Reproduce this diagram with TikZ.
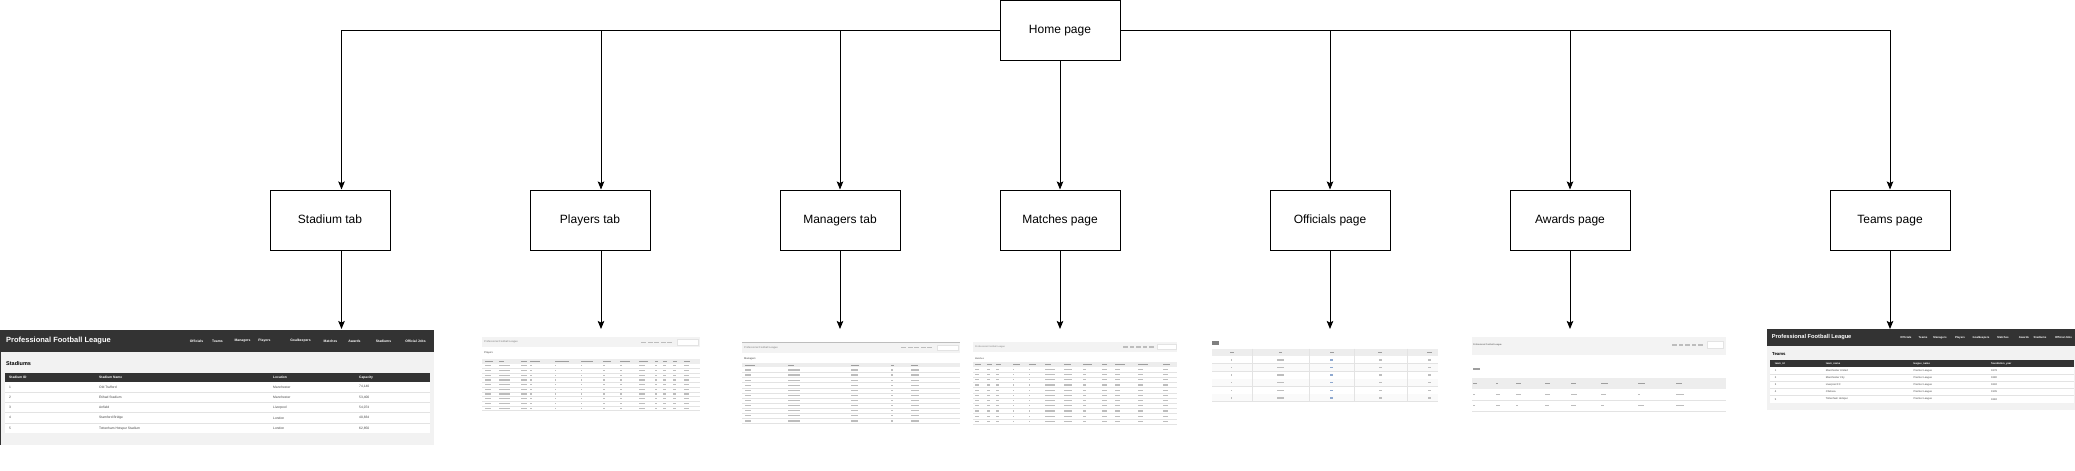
\documentclass[tikz,border=0pt]{standalone}
\usepackage{fontspec}
\setmainfont{Liberation Sans}
\usetikzlibrary{arrows.meta}
\definecolor{hdrdark}{HTML}{333333}
\definecolor{pagebg}{HTML}{F2F2F2}
\definecolor{lightbar}{HTML}{F3F3F3}
\definecolor{thead}{HTML}{EDEDED}
\definecolor{sep}{HTML}{E3E3E3}
\definecolor{cell}{HTML}{BDBDBD}
\definecolor{cellh}{HTML}{9E9E9E}
\definecolor{linkc}{HTML}{8FA9D0}
\definecolor{txt}{HTML}{444444}
\begin{document}
\begin{tikzpicture}[x=1pt,y=-1pt,
 box/.style={draw=black,line width=1pt,minimum width=120pt,minimum height=60pt,inner sep=0pt,text height=8.6pt,text depth=2.4pt,font=\fontsize{12}{14}\selectfont},
 link/.style={draw=black,line width=0.9pt,-{Stealth[length=8pt,width=6.5pt,inset=1.5pt]}},
 wt/.style={inner sep=0pt,text=white,anchor=west},
 nav/.style={inner sep=0pt,text=white,font=\bfseries\fontsize{3.4}{4}\selectfont},
 cellt/.style={inner sep=0pt,anchor=west,text=txt,font=\fontsize{3.3}{4}\selectfont},
 tiny/.style={inner sep=0pt,anchor=west,text=gray,font=\fontsize{2.6}{3}\selectfont},
]
\fill[white] (0,0) rectangle (2075,471);
\useasboundingbox (0,0) rectangle (2075,471);

% ---------- tree boxes ----------
\node[box] (home) at (1060,30.5) {Home page};
\node[box] (stadium) at (330,220) {Stadium tab};
\node[box] (players) at (590,220) {Players tab};
\node[box] (managers) at (840,220) {Managers tab};
\node[box] (matches) at (1060,220) {Matches page};
\node[box] (officials) at (1330,220) {Officials page};
\node[box] (awards) at (1570,220) {Awards page};
\node[box] (teams) at (1890,220) {Teams page};

\coordinate (shotSt) at (341.5,329);
\coordinate (shotPl) at (601,329);
\coordinate (shotMa) at (840,329);
\coordinate (shotMt) at (1060,329);
\coordinate (shotOf) at (1330,329);
\coordinate (shotAw) at (1570,329);
\coordinate (shotTe) at (1890,329);

\draw[link] (home.west) -| ([xshift=11.5pt]stadium.north);
\draw[link] (home.west) -| ([xshift=11pt]players.north);
\draw[link] (home.west) -| (managers.north);
\draw[link] (home.south) -- (matches.north);
\draw[link] (home.east) -| (officials.north);
\draw[link] (home.east) -| (awards.north);
\draw[link] (home.east) -| (teams.north);

\draw[link] ([xshift=11.5pt]stadium.south) -- (shotSt);
\draw[link] ([xshift=11pt]players.south) -- (shotPl);
\draw[link] (managers.south) -- (shotMa);
\draw[link] (matches.south) -- (shotMt);
\draw[link] (officials.south) -- (shotOf);
\draw[link] (awards.south) -- (shotAw);
\draw[link] (teams.south) -- (shotTe);

% ---------- Stadium screenshot ----------
\fill[pagebg] (0,352) rectangle (434,445);
\fill[hdrdark] (0,330) rectangle (434,352.3);
\draw[hdrdark,line width=0.8pt] (0.4,352) -- (0.4,445);
\node[wt,font=\bfseries\fontsize{7.5}{9}\selectfont] (stTitle) at (6,341) {Professional Football League};
\foreach \t/\x [count=\i] in {Officials/196.5,Teams/217.5,Managers/242.5,Players/264.5,Goalkeepers/300.5,Matches/330.5,Awards/354.5,Stadiums/383.5,Official Jobs/415.5}
  \node[nav] (stNav\i) at (\x,341) {\t};
\node[inner sep=0pt,anchor=west,font=\bfseries\fontsize{5.5}{6}\selectfont] (stHead) at (6,363.7) {Stadiums};
\fill[hdrdark] (5,372.7) rectangle (430,381.8);
\fill[white] (5,381.8) rectangle (430,433.3);
\foreach \i in {1,...,4} \draw[sep,line width=0.5pt] (5,{381.8+10.3*\i}) -- (430,{381.8+10.3*\i});
\foreach \t/\x [count=\i] in {Stadium ID/9,Stadium Name/99,Location/273,Capacity/359}
  \node[cellt,text=white,font=\bfseries\fontsize{3.3}{4}\selectfont] (stCol\i) at (\x,377.2) {\t};
\foreach \a/\b/\c/\d [count=\i] in {1/Old Trafford/Manchester/{74,140},2/Etihad Stadium/Manchester/{53,400},3/Anfield/Liverpool/{54,074},4/Stamford Bridge/London/{40,834},5/Tottenham Hotspur Stadium/London/{62,850}}{
  \node[cellt] (stA\i) at (9,{381.8+10.3*(\i-0.5)}) {\a};
  \node[cellt] (stB\i) at (99,{381.8+10.3*(\i-0.5)}) {\b};
  \node[cellt] (stC\i) at (273,{381.8+10.3*(\i-0.5)}) {\c};
  \node[cellt] (stD\i) at (359,{381.8+10.3*(\i-0.5)}) {\d};
}

% ---------- Players screenshot ----------
\fill[lightbar] (482,337.3) rectangle (700,347.3);
\node[tiny] (plTitle) at (484,342.3) {Professional Football League};
\foreach \x in {641,647.5,654,660.5,667} \fill[cell] (\x,341.7) rectangle ++(5,1.3);
\draw[sep,fill=white,line width=0.3pt] (677,339.5) rectangle (698,345);
\node[tiny,text=txt] (plHead) at (484,353.3) {Players};
\fill[thead] (482,359) rectangle (700,363.5);
\foreach \x/\w in {485/8,499.3/5,521/6,530/10,555/14,581/12,602.7/8,620/10,639.3/9,655/3,663.3/4,673.3/4,684.3/6}
  \fill[cellh] (\x,360.6) rectangle ++(\w,1.3);
\foreach \r in {0,...,9}{
  \draw[sep,line width=0.3pt] (482,{363.5+4.7*(\r+1)}) -- (700,{363.5+4.7*(\r+1)});
  \foreach \x/\w in {485/6,499.3/11,521/6,530/2,555/1.2,581/1.2,602.7/2,620/1.5,639.3/6,655/1.5,663.3/3,673.3/3,684.3/5}
    \fill[cell] (\x,{365.2+4.7*\r}) rectangle ++(\w,1.2);
}

% ---------- Managers screenshot ----------
\fill[lightbar] (742,342.5) rectangle (960,352.7);
\draw[cell,line width=0.8pt] (742,342.3) -- (960,342.3);
\node[tiny] (maTitle) at (744,347.6) {Professional Football League};
\foreach \x in {901,907.5,914,920.5,927} \fill[cell] (\x,347) rectangle ++(5,1.3);
\draw[sep,fill=white,line width=0.3pt] (936.7,345) rectangle (958,350.3);
\node[tiny,text=txt] (maHead) at (744,359) {Managers};
\fill[thead] (742,363.3) rectangle (960,367.3);
\foreach \x/\w in {745/10,787.7/6,850.7/8,891/3,911/7}
  \fill[cellh] (\x,364.7) rectangle ++(\w,1.3);
\foreach \r in {0,...,10}{
  \draw[sep,line width=0.3pt] (742,{367.3+5.1*(\r+1)}) -- (960,{367.3+5.1*(\r+1)});
  \foreach \x/\w in {745/6,787.7/12,850.7/7,891/2,911/8}
    \fill[cell] (\x,{369.3+5.1*\r}) rectangle ++(\w,1.2);
}

% ---------- Matches screenshot ----------
\fill[lightbar] (973.3,342.3) rectangle (1176.7,351.7);
\node[tiny,font=\fontsize{2.3}{3}\selectfont] (mtTitle) at (975,347) {Professional Football League};
\foreach \x in {1123,1129.5,1136,1142.5,1149} \fill[cell] (\x,346.4) rectangle ++(4.5,1.2);
\draw[sep,fill=white,line width=0.3pt] (1156.7,344.5) rectangle (1175.7,349.5);
\node[tiny,text=txt,font=\fontsize{2.3}{3}\selectfont] (mtHead) at (975,358.3) {Matches};
\fill[thead] (973.3,362.3) rectangle (1176.7,366.7);
\foreach \x/\w in {975/6,986.7/5,995.7/5,1013.3/7,1029/7,1045/6,1064.3/7,1082.7/9,1101.7/5,1115/10,1138.3/10,1163.3/7}
  \fill[cellh] (\x,363.9) rectangle ++(\w,1.3);
\foreach \r in {0,...,10}{
  \draw[sep,line width=0.3pt] (973.3,{366.7+5.2*(\r+1)}) -- (1176.7,{366.7+5.2*(\r+1)});
  \foreach \x/\w in {975/4,986.7/3,995.7/3,1013.3/1,1029/1,1045/10,1064.3/8,1082.7/3,1101.7/5,1115/5,1138.3/5,1163.3/5}
    \fill[cell] (\x,{368.7+5.2*\r}) rectangle ++(\w,1.2);
}

% ---------- Officials screenshot ----------
\fill[black!50] (1212,341) rectangle (1219,344.5);
\fill[thead] (1212,348.7) rectangle (1437.7,356);
\foreach \r in {0,...,5}{
  \ifodd\r \fill[black!2] (1212,{356+7.6*\r}) rectangle (1437.7,{356+7.6*(\r+1)}); \fi
  \draw[sep,line width=0.3pt] (1212,{356+7.6*(\r+1)}) -- (1437.7,{356+7.6*(\r+1)});
  \foreach \x/\w/\c in {1231.7/1/cell,1280/7/cell,1331.7/3/linkc,1380/3/cell,1429.3/3/cell}
    \fill[\c] ({\x-\w/2},{359.2+7.6*\r}) rectangle ++(\w,1.3);
}
\foreach \x in {1251.7,1309.3,1354.3,1407.3} \draw[sep,line width=0.3pt] (\x,348.7) -- (\x,401.6);
\foreach \x/\w in {1231.7/4,1280/3,1331.7/4,1380/4,1429.3/5}
  \fill[cellh] ({\x-\w/2},351.7) rectangle ++(\w,1.4);

% ---------- Awards screenshot ----------
\fill[lightbar] (1472.3,337.3) rectangle (1725.7,355);
\node[tiny,font=\fontsize{2.2}{3}\selectfont,text=txt] (awTitle) at (1473,345) {Professional Football League};
\foreach \x in {1672,1678.5,1685,1691.5,1698} \fill[cell] (\x,344.4) rectangle ++(4.5,1.3);
\draw[sep,fill=white,line width=0.3pt] (1706.7,341.5) rectangle (1723,348.5);
\fill[cellh] (1473,368.4) rectangle ++(7,1.8);
\fill[thead] (1472.3,377.7) rectangle (1725.7,389.3);
\foreach \x/\w in {1473.3/4,1496/2,1516/5,1545/5,1570.7/5,1600.7/7,1637.7/7,1676/6}
  \fill[cellh] (\x,382.8) rectangle ++(\w,1.4);
\draw[sep,line width=0.4pt] (1472.3,400) -- (1725.7,400);
\draw[sep,line width=0.4pt] (1472.3,410.7) -- (1725.7,410.7);
\foreach \x/\w in {1473.3/2,1496/4,1516/5,1545/5,1570.7/6,1600.7/5,1637.7/2,1676/8}
  \fill[cell] (\x,393.9) rectangle ++(\w,1.4);
\foreach \x/\w in {1473.3/2,1496/4,1516/2,1545/4,1570.7/5,1600.7/3,1637.7/6,1676/8}
  \fill[cell] (\x,404.6) rectangle ++(\w,1.4);

% ---------- Teams screenshot ----------
\fill[pagebg] (1767.3,345.7) rectangle (2075,410);
\fill[hdrdark] (1767.3,329.3) rectangle (2075,345.7);
\node[wt,font=\bfseries\fontsize{5.7}{7}\selectfont] (teTitle) at (1771.7,337.5) {Professional Football League};
\foreach \t/\x [count=\i] in {Officials/1906,Teams/1923,Managers/1940,Players/1960,Goalkeepers/1981,Matches/2003,Awards/2024,Stadiums/2040,Official Jobs/2063.5}
  \node[nav,font=\bfseries\fontsize{2.8}{3}\selectfont] (teNav\i) at (\x,337.5) {\t};
\node[inner sep=0pt,anchor=west,font=\bfseries\fontsize{4.3}{5}\selectfont] (teHead) at (1772,354.3) {Teams};
\fill[hdrdark] (1770,360.3) rectangle (2074,367);
\fill[white] (1770,367) rectangle (2074,402.7);
\foreach \i in {1,...,4} \draw[sep,line width=0.4pt] (1770,{367+7.14*\i}) -- (2074,{367+7.14*\i});
\foreach \t/\x [count=\i] in {team\_id/1774.7,team\_name/1825.7,league\_name/1913.3,foundation\_year/1991}
  \node[cellt,text=white,font=\bfseries\fontsize{2.6}{3}\selectfont] (teCol\i) at (\x,363.7) {\t};
\foreach \a/\b/\c/\d [count=\i] in {1/Manchester United/Premier League/1878,2/Manchester City/Premier League/1880,3/Liverpool FC/Premier League/1892,4/Chelsea/Premier League/1905,5/Tottenham Hotspur/Premier League/1882}{
  \node[cellt,font=\fontsize{2.6}{3}\selectfont] (teA\i) at (1774.7,{367+7.14*(\i-0.5)}) {\a};
  \node[cellt,font=\fontsize{2.6}{3}\selectfont] (teB\i) at (1825.7,{367+7.14*(\i-0.5)}) {\b};
  \node[cellt,font=\fontsize{2.6}{3}\selectfont] (teC\i) at (1913.3,{367+7.14*(\i-0.5)}) {\c};
  \node[cellt,font=\fontsize{2.6}{3}\selectfont] (teD\i) at (1991,{367+7.14*(\i-0.5)}) {\d};
}
\end{tikzpicture}
\end{document}
